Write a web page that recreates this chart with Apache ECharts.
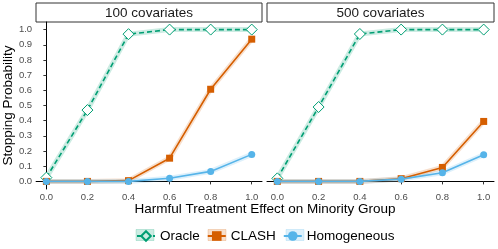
<!DOCTYPE html>
<html><head><meta charset="utf-8">
<script src="https://cdn.jsdelivr.net/npm/echarts@6/dist/echarts.min.js"></script>
<style>html,body{margin:0;padding:0;background:#fff}#c{width:498px;height:249px}</style>
</head><body><div id="c"></div>
<script>
const effects = [0, 0.2, 0.4, 0.6, 0.8, 1.0];
const xTicks = [0, 0.2, 0.4, 0.6, 0.8, 1.0];
const yTicks = [0, 0.1, 0.2, 0.3, 0.4, 0.5, 0.6, 0.7, 0.8, 0.9, 1.0];
const panels = ["100 covariates", "500 covariates"];
const oracle100 = [0.025, 0.47, 0.97, 1.0, 1.0, 1.0];
const clash100 = [0, 0, 0.005, 0.153, 0.607, 0.937];
const homog100 = [0, 0, 0, 0.021, 0.066, 0.178];
const oracle500 = [0.02, 0.49, 0.971, 1.0, 1.0, 1.0];
const clash500 = [0, 0, 0, 0.018, 0.092, 0.395];
const homog500 = [0, 0, 0, 0.015, 0.057, 0.176];

const C = {Oracle: '#009E73', CLASH: '#D55E00', Homogeneous: '#56B4E9'};
const bgCols = {Oracle: 'rgba(0,158,115,0.2)', CLASH: 'rgba(213,94,0,0.2)', Homogeneous: 'rgba(86,180,233,0.2)'};
const font = 'Liberation Sans, Arial, sans-serif';
const pts = v => effects.map((x, i) => [x, v[i]]);

function mk(name, data, gi) {
  const col = C[name];
  const base = {
    xAxisIndex: gi, yAxisIndex: gi, type: 'line', data: pts(data)
  };
  const band = Object.assign({}, base, {
    name: name + '_band', symbol: 'none', silent: true, z: 1,
    lineStyle: {color: col, width: 5, opacity: 0.2}
  });
  let sym = 'circle', size = 7, it = {color: col};
  if (name === 'Oracle') { sym = 'diamond'; size = 11; it = {color: '#fff', borderColor: col, borderWidth: 1}; }
  if (name === 'CLASH') { sym = 'rect'; size = 7; }
  const main = Object.assign({}, base, {
    name: name, symbol: sym, symbolSize: size, z: name === 'Oracle' ? 3 : (name === 'CLASH' ? 4 : 5),
    itemStyle: it,
    lineStyle: {color: col, width: 1.6, type: name === 'Oracle' ? [5, 3] : 'solid'}
  });
  return [band, main];
}

const grids = [
  {left: 36, right: 236, top: 22, bottom: 60},
  {left: 267, right: 4, top: 22, bottom: 60}
];
const xAxes = grids.map((g, i) => ({
  gridIndex: i, type: 'value', min: -0.05, max: 1.05,
  axisLine: {show: true, lineStyle: {color: '#000', width: 1}},
  axisTick: {show: true, customValues: xTicks, length: 3, lineStyle: {color: '#333'}},
  axisLabel: {customValues: xTicks, formatter: v => v.toFixed(1), fontSize: 9.5, color: '#4d4d4d', margin: 3, fontFamily: font},
  splitLine: {show: false}
}));
const yAxes = grids.map((g, i) => ({
  gridIndex: i, type: 'value', min: -0.05, max: 1.05,
  name: i === 0 ? 'Stopping Probability' : '', nameLocation: 'middle', nameGap: 19,
  nameTextStyle: {fontSize: 13.5, color: '#000', fontFamily: font},
  axisLine: {show: i === 0, lineStyle: {color: '#000', width: 1}},
  axisTick: {show: i === 0, customValues: yTicks, length: 3, lineStyle: {color: '#333'}},
  axisLabel: {show: i === 0, customValues: yTicks, formatter: v => v.toFixed(1), fontSize: 9.5, color: '#4d4d4d', margin: 4, fontFamily: font},
  splitLine: {show: false}
}));

const series = [].concat(
  mk('Oracle', oracle100, 0), mk('CLASH', clash100, 0), mk('Homogeneous', homog100, 0),
  mk('Oracle', oracle500, 1), mk('CLASH', clash500, 1), mk('Homogeneous', homog500, 1)
);

const strips = [[36, 226], [267, 227]];
const graphic = [];
[['Oracle', 136], ['CLASH', 208], ['Homogeneous', 286]].forEach(k => {
  const x0 = k[1], y0 = 229.5, w = 18, h = 11;
  graphic.push({type: 'polygon', z: 100, silent: true,
    shape: {points: [[x0, y0], [x0 + w, y0], [x0 + w, y0 + h], [x0, y0 + h]]},
    style: {fill: bgCols[k[0]], stroke: bgCols[k[0]], lineWidth: 1}});
});
strips.forEach((s, i) => {
  graphic.push({type: 'rect', shape: {x: s[0], y: 3, width: s[1], height: 19}, style: {fill: '#fff', stroke: '#333', lineWidth: 1}});
  graphic.push({type: 'text', x: s[0] + s[1] / 2, y: 13, style: {text: panels[i], fontSize: 13.5, fill: '#1a1a1a', fontFamily: font, align: 'center', verticalAlign: 'middle'}});
});
graphic.push({type: 'text', x: 265, y: 209, style: {text: 'Harmful Treatment Effect on Minority Group', fontSize: 13.5, fill: '#000', fontFamily: font, align: 'center', verticalAlign: 'middle'}});

const chart = echarts.init(document.getElementById('c'), null, {renderer: 'canvas'});
chart.setOption({
  backgroundColor: '#fff', animation: false,
  grid: grids, xAxis: xAxes, yAxis: yAxes, series: series, graphic: graphic,
  legend: {
    data: ['Oracle', 'CLASH', 'Homogeneous'], top: 229, left: 136, padding: 0,
    itemWidth: 18, itemHeight: 12, itemGap: 7,
    textStyle: {fontSize: 13.5, color: '#000', fontFamily: font}
  }
});
</script></body></html>
